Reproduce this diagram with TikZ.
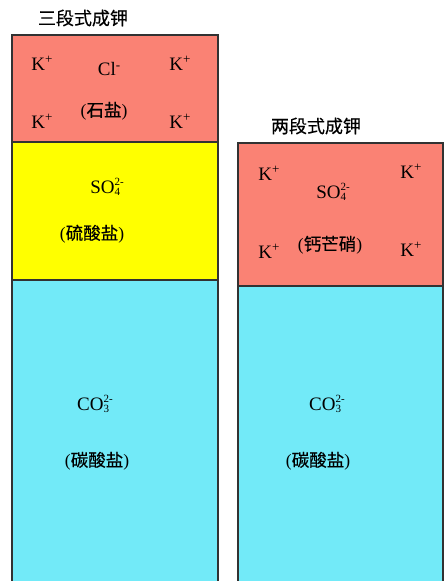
\documentclass[tikz,border=0pt]{standalone}
\usepackage{fontspec}
\setmainfont{Liberation Serif}
\newfontfamily\cjk[FakeBold=0.4]{Noto Sans CJK SC}
\definecolor{salt}{RGB}{250,130,116}
\definecolor{sulf}{RGB}{255,255,0}
\definecolor{carb}{RGB}{114,234,248}
\definecolor{edge}{RGB}{50,50,50}
\newcommand{\ionsub}[3]{#1\rlap{\raisebox{-2.5pt}{\fontsize{11}{11}\selectfont #2}}\raisebox{8pt}{\fontsize{11}{11}\selectfont #3}}
\newcommand{\kion}{K\raisebox{7pt}{\fontsize{13}{13}\selectfont +}}
\newcommand{\paren}[1]{{\rmfamily(}#1{\rmfamily)}}
\tikzset{
  layer/.style={draw=edge, line width=1.1pt},
  lbl/.style={inner sep=0pt, font=\fontsize{19}{19}\selectfont},
  cn/.style={inner sep=0pt, font=\fontsize{17.5}{17.5}\selectfont\cjk},
  ttl/.style={inner sep=0pt, font=\fontsize{18}{18}\selectfont\cjk}
}
\begin{document}
\begin{tikzpicture}[x=1pt,y=-1pt]
\useasboundingbox (0,0) rectangle (446,581);
% left column
\fill[salt] (12,35) rectangle (218,142);
\fill[sulf] (12,142) rectangle (218,280);
\fill[carb] (12,280) rectangle (218,583);
\draw[layer] (12,583) -- (12,35) -- (218,35) -- (218,583);
\draw[layer] (12,142) -- (218,142);
\draw[layer] (12,280) -- (218,280);
% right column
\fill[salt] (238,143) rectangle (443,286);
\fill[carb] (238,286) rectangle (443,583);
\draw[layer] (238,583) -- (238,143) -- (443,143) -- (443,583);
\draw[layer] (238,286) -- (443,286);
% titles
\node[ttl] (t1) at (83,18) {三段式成钾};
\node[ttl] (t2) at (316,126) {两段式成钾};
% left labels
\node[lbl] (k1) at (42,63) {\kion};
\node[lbl] (k2) at (180,63) {\kion};
\node[lbl] (k3) at (42,121) {\kion};
\node[lbl] (k4) at (180,121) {\kion};
\node[lbl] (cl) at (109,69) {Cl\raisebox{6pt}{\fontsize{13}{13}\selectfont -}};
\node[cn] (shiyan) at (104,111) {\paren{石盐}};
\node[lbl] (so4a) at (107,187) {\ionsub{SO}{4}{2-}};
\node[cn] (liusuan) at (92,234) {\paren{硫酸盐}};
\node[lbl] (co3a) at (95,404) {\ionsub{CO}{3}{2-}};
\node[cn] (tansuan1) at (97,461) {\paren{碳酸盐}};
% right labels
\node[lbl] (k5) at (269,173) {\kion};
\node[lbl] (k6) at (411,171) {\kion};
\node[lbl] (k7) at (269,251) {\kion};
\node[lbl] (k8) at (411,249) {\kion};
\node[lbl] (so4b) at (333,192) {\ionsub{SO}{4}{2-}};
\node[cn] (gaimang) at (330,245) {\paren{钙芒硝}};
\node[lbl] (co3b) at (327,404) {\ionsub{CO}{3}{2-}};
\node[cn] (tansuan2) at (318,461) {\paren{碳酸盐}};
\end{tikzpicture}
\end{document}
